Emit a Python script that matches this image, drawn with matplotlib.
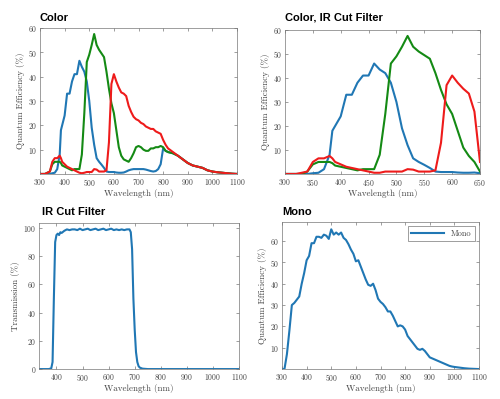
import matplotlib
matplotlib.use('Agg')
import matplotlib.pyplot as plt

plt.rcParams['font.family'] = 'cmr10'
plt.rcParams['axes.formatter.use_mathtext'] = True

BLUE = '#2077b4'
GREEN = '#148a14'
RED = '#ee1b1b'
GREY = '#444444'

# Color sensor QE
color_wl = [300, 320, 340, 350, 360, 370, 380, 385, 390, 400, 410, 420, 430, 440, 450,
            460, 470, 480, 490, 500, 510, 520, 530, 540, 550, 560, 570, 580, 590, 600,
            610, 620, 630, 640, 650, 660, 670, 680, 690, 700, 710, 720, 730, 740, 750,
            760, 770, 780, 790, 800, 810, 820, 840, 860, 880, 900, 920, 940, 960, 980,
            1000, 1020, 1040, 1060, 1080, 1100]
color_blue = [0, 0, 0, 0.3, 0.5, 2, 8, 18, 20, 24, 33, 33, 38, 41, 41,
              46.5, 44, 42, 38, 30, 19, 12, 6.5, 5, 3.8, 2.5, 1, 0.8, 0.8, 0.8,
              0.6, 0.5, 0.5, 0.6, 1, 1.5, 1.8, 2, 2, 2, 2, 2, 1.8, 1.5, 1.2,
              1, 1.2, 2, 4, 10.5, 9.5, 9, 8.5, 7.5, 6, 4.5, 3.5, 3, 2.5, 1.5,
              1, 0.7, 0.5, 0.3, 0.1, 0]
color_green = [0, 0, 1, 4, 5, 5, 5, 4.5, 3.5, 3, 2.5, 2, 1.5, 2, 2,
               2, 8, 25, 46, 49, 53, 57.5, 53, 51, 49.5, 48, 42, 35, 29, 25,
               18, 11, 7.5, 6, 5.5, 5, 6.5, 8.5, 11, 11.5, 11, 10, 9.5, 9.5, 10.5,
               10.5, 11, 11, 11.5, 11, 9.5, 9, 8.5, 7.5, 6, 4.5, 3.5, 3, 2.5, 1.5,
               1, 0.7, 0.5, 0.3, 0.1, 0]
color_red = [0, 0, 1, 5, 6.5, 6.5, 7.5, 6.5, 5, 4, 3, 2.5, 2, 1.5, 1,
             0.5, 0.3, 0.5, 0.8, 0.8, 0.8, 2, 1.8, 1, 1, 1, 1.5, 13, 37, 41,
             38, 35.5, 33.5, 33, 32, 28, 25.5, 23.5, 22.5, 22, 21, 20.5, 19.5, 19, 18.5,
             18.5, 17.5, 17, 16.5, 14, 12, 10.5, 9, 7.5, 6, 4.5, 3.5, 3, 2.5, 1.5,
             1, 0.7, 0.5, 0.3, 0.1, 0]

# Color sensor with IR cut filter
cut_wl = [300, 320, 330, 340, 350, 360, 370, 380, 385, 390, 400, 410, 420, 430, 440,
          450, 460, 470, 480, 490, 500, 510, 520, 530, 540, 550, 560, 570, 580, 590,
          600, 610, 620, 630, 640, 650]
cut_blue = [0, 0, 0, 0, 0.3, 0.5, 2, 8, 18, 20, 24, 33, 33, 38, 41,
            41, 46, 43.5, 42, 38, 30, 19, 12, 6.5, 5, 3.8, 2.5, 1, 0.8, 0.8,
            0.8, 0.6, 0.5, 0.5, 0.6, 0.3]
cut_green = [0, 0, 0, 1, 4, 5, 5, 5, 4.5, 3.5, 3, 2.5, 2, 1.5, 2,
             2, 2, 8, 25, 46, 49, 53, 57.5, 53, 51, 49.5, 48, 42, 35, 29,
             25, 18, 11, 7.5, 5, 1]
cut_red = [0, 0, 0.5, 1, 5, 6.5, 6.5, 7.5, 6.5, 5, 4, 3, 2.5, 2, 1.5,
           1, 0.5, 0.5, 1, 1, 1, 1, 2, 1.8, 1, 1, 1, 1.5, 13, 37,
           41, 38, 35.5, 33.5, 26, 5]

# IR cut filter transmission
ir_wl = [335, 370, 380, 385, 390, 395, 400, 405, 410, 415, 420, 430, 440, 450, 460,
         470, 480, 490, 500, 510, 520, 530, 540, 550, 560, 570, 580, 590, 600, 610,
         620, 630, 640, 650, 660, 670, 680, 685, 690, 695, 700, 705, 710, 715, 720,
         730, 750, 800, 900, 1000, 1100]
ir_trans = [0, 0, 0.5, 5, 50, 90, 95, 96, 95, 97, 96.5, 98, 99, 98.5, 99,
            99, 98.5, 99.5, 98.5, 99, 99.5, 98.5, 99, 99.5, 98.5, 99, 99.5, 98.5, 99, 99.5,
            98.5, 99, 98.5, 99, 98.5, 99, 99, 97, 85, 50, 28, 12, 5, 2, 1,
            0.3, 0, 0, 0, 0, 0]

# Mono sensor QE
mono_wl = [300, 310, 320, 330, 340, 350, 360, 370, 380, 390, 400, 410, 420, 430, 440,
           450, 460, 470, 480, 490, 500, 510, 520, 530, 540, 550, 560, 570, 580, 590,
           600, 610, 620, 630, 640, 650, 660, 670, 680, 690, 700, 710, 720, 730, 740,
           750, 760, 770, 780, 790, 800, 810, 820, 830, 840, 850, 860, 870, 880, 890,
           900, 910, 920, 930, 940, 950, 960, 970, 980, 990, 1000, 1020, 1040, 1060,
           1080, 1100]
mono_qe = [0, 0, 7, 18, 30, 31, 32.5, 34, 40, 45, 51, 53, 59, 59, 62,
           62, 61.5, 63, 62.5, 61, 65.5, 63, 64, 63, 64, 61.5, 60.5, 58.5, 56, 54,
           50.5, 51, 48, 45, 42, 39.5, 39, 40, 37, 33, 31.5, 30.5, 29, 27, 27,
           25, 22.5, 20, 20.5, 20, 18.5, 15.5, 14, 12.5, 11, 9.5, 9, 9.5, 8.5, 7,
           5.5, 5, 4.5, 4, 3.5, 3, 2.5, 2, 1.5, 1.2, 1, 0.7, 0.4, 0.2,
           0.1, 0]

fig = plt.figure(figsize=(5, 3.99), dpi=100)

def style(ax, ylabel):
    ax.tick_params(direction='in', top=True, right=True, labelsize=5.5, length=2.5,
                   width=0.5, pad=2, colors='#777777', labelcolor=GREY)
    for s in ax.spines.values():
        s.set_linewidth(0.5)
        s.set_color('#777777')
    ax.set_xlabel('Wavelength (nm)', fontsize=6.5, labelpad=1, color=GREY)
    ax.set_ylabel(ylabel, fontsize=6.5, labelpad=2, color=GREY)

lw = 1.5

ax1 = fig.add_axes([0.08, 0.564, 0.394, 0.366])
ax1.plot(color_wl, color_blue, color=BLUE, lw=lw)
ax1.plot(color_wl, color_green, color=GREEN, lw=lw)
ax1.plot(color_wl, color_red, color=RED, lw=lw)
ax1.set_xlim(300, 1100)
ax1.set_ylim(0, 60)
ax1.set_xticks(range(300, 1101, 100))
ax1.set_yticks([10, 20, 30, 40, 50, 60])
style(ax1, 'Quantum Efficiency (%)')

ax2 = fig.add_axes([0.57, 0.564, 0.39, 0.361])
ax2.plot(cut_wl, cut_blue, color=BLUE, lw=lw)
ax2.plot(cut_wl, cut_green, color=GREEN, lw=lw)
ax2.plot(cut_wl, cut_red, color=RED, lw=lw)
ax2.set_xlim(300, 650)
ax2.set_ylim(0, 60)
ax2.set_xticks(range(300, 651, 50))
ax2.set_yticks([10, 20, 30, 40, 50, 60])
style(ax2, 'Quantum Efficiency (%)')

ax3 = fig.add_axes([0.078, 0.075, 0.4, 0.366])
ax3.plot(ir_wl, ir_trans, color=BLUE, lw=lw)
ax3.set_xlim(333, 1100)
ax3.set_ylim(0, 103.5)
ax3.set_xticks(range(400, 1101, 100))
ax3.set_yticks([0, 20, 40, 60, 80, 100])
style(ax3, 'Transmission (%)')

ax4 = fig.add_axes([0.564, 0.075, 0.394, 0.369])
ax4.plot(mono_wl, mono_qe, color=BLUE, lw=lw, label='Mono')
ax4.set_xlim(300, 1100)
ax4.set_ylim(0, 69)
ax4.set_xticks(range(300, 1101, 100))
ax4.set_yticks([10, 20, 30, 40, 50, 60])
style(ax4, 'Quantum Efficiency (%)')
leg = ax4.legend(loc='upper right', fontsize=6, fancybox=False, handlelength=4,
                 borderpad=0.4, framealpha=1, labelcolor=GREY)
leg.get_frame().set_edgecolor('#777777')
leg.get_frame().set_linewidth(0.5)

tkw = dict(fontsize=8, fontweight='bold', family='Liberation Sans', ha='left', va='baseline')
fig.text(40 / 500, 1 - 21 / 399, 'Color', **tkw)
fig.text(285 / 500, 1 - 21 / 399, 'Color, IR Cut Filter', **tkw)
fig.text(42 / 500, 1 - 215 / 399, 'IR Cut Filter', **tkw)
fig.text(282 / 500, 1 - 215 / 399, 'Mono', **tkw)

fig.savefig('out.png', dpi=100)
